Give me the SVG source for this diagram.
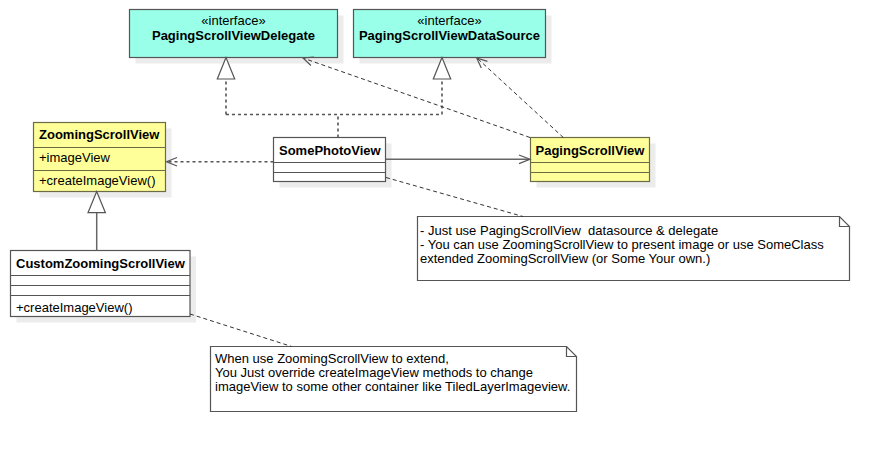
<svg xmlns="http://www.w3.org/2000/svg" width="890" height="453" viewBox="0 0 890 453">
<style>
text{font-family:"Liberation Sans",Arial,sans-serif;font-size:13px;fill:#000}
.b{font-weight:bold}
.c{text-anchor:middle}
.sh{fill:#ececec;stroke:none}
.box{stroke:#555;stroke-width:1.2}
.itf{fill:#99ffe9}
.yel{fill:#ffff99;stroke:#6b6b45}
.wht{fill:#fff}
.div{stroke:#555;stroke-width:1.2;fill:none}
.note{fill:#fff;stroke:#555;stroke-width:1.2}
.real{fill:none;stroke:#555;stroke-width:1.6;stroke-dasharray:3 3}
.dep{fill:none;stroke:#333;stroke-width:1;stroke-dasharray:4 3}
.sol{fill:none;stroke:#666;stroke-width:1.5}
.head{fill:none;stroke:#555;stroke-width:1.2}
.tri{fill:#fff;stroke:#555;stroke-width:1.2}
</style>
<rect width="890" height="453" fill="#fff"/>
<g id="PagingScrollViewDelegate">
  <rect class="sh" x="135.5" y="15.5" width="208" height="48"/>
  <rect class="box itf" x="129.5" y="9.5" width="208" height="48"/>
  <text class="c" x="233.5" y="24.5">«interface»</text>
  <text class="b c" x="233.5" y="39.5">PagingScrollViewDelegate</text>
</g>
<g id="PagingScrollViewDataSource">
  <rect class="sh" x="359.5" y="15.5" width="192" height="48"/>
  <rect class="box itf" x="353.5" y="9.5" width="192" height="48"/>
  <text class="c" x="449.5" y="24.5">«interface»</text>
  <text class="b c" x="449.5" y="39.5">PagingScrollViewDataSource</text>
</g>
<g id="ZoomingScrollView">
  <rect class="sh" x="39.5" y="128.5" width="132" height="69"/>
  <rect class="box yel" x="33.5" y="122.5" width="132" height="69"/>
  <path class="div" d="M33.5,147.5 H165.5 M33.5,170.5 H165.5" style="stroke:#6b6b45"/>
  <text class="b" x="39" y="139">ZoomingScrollView</text>
  <text x="39" y="161.5">+imageView</text>
  <text x="39" y="184.5">+createImageView()</text>
</g>
<g id="SomePhotoView">
  <rect class="sh" x="279.5" y="143.5" width="112" height="44"/>
  <rect class="box wht" x="273.5" y="137.5" width="112" height="44"/>
  <path class="div" d="M273.5,162.5 H385.5 M273.5,172.5 H385.5"/>
  <text class="b" x="279" y="155">SomePhotoView</text>
</g>
<g id="PagingScrollView">
  <rect class="sh" x="536.5" y="143.5" width="119" height="44"/>
  <rect class="box yel" x="530.5" y="137.5" width="119" height="44"/>
  <path class="div" d="M530.5,162.5 H649.5 M530.5,172.5 H649.5" style="stroke:#6b6b45"/>
  <text class="b" x="535.5" y="155">PagingScrollView</text>
</g>
<g id="CustomZoomingScrollView">
  <rect class="sh" x="16.5" y="256.5" width="179.5" height="66"/>
  <rect class="box wht" x="10.5" y="250.5" width="179.5" height="66"/>
  <path class="div" d="M10.5,275.5 H190 M10.5,285.5 H190 M10.5,295.5 H190"/>
  <text class="b" x="16" y="267.5">CustomZoomingScrollView</text>
  <text x="16" y="311.5">+createImageView()</text>
</g>
<g id="note1">
  <path class="note" d="M417.5,216.5 H839.5 L849.5,226.5 V280.5 H417.5 Z M839.5,216.5 V226.5 H849.5"/>
  <text x="420" y="235" style="white-space:pre">- Just use PagingScrollView  datasource &amp; delegate</text>
  <text x="420" y="249">- You can use ZoomingScrollView to present image or use SomeClass</text>
  <text x="420" y="263">extended ZoomingScrollView (or Some Your own.)</text>
</g>
<g id="note2">
  <path class="note" d="M210.5,346.5 H566.5 L576.5,356.5 V411.5 H210.5 Z M566.5,346.5 V356.5 H576.5"/>
  <text x="215" y="363">When use ZoomingScrollView to extend,</text>
  <text x="215" y="377">You Just override createImageView methods to change</text>
  <text x="215" y="391">imageView to some other container like TiledLayerImageview.</text>
</g>
<g id="connectors">
  <path class="real" d="M338,137.5 V114.5 M226,114.5 H442 M226,114.5 V79 M442,114.5 V79"/>
  <polygon class="tri" points="226,57.5 217.3,79 234.7,79"/>
  <polygon class="tri" points="442,57.5 433.3,79 450.7,79"/>
  <line class="sol" x1="96.7" y1="250.5" x2="96.7" y2="212.7"/>
  <polygon class="tri" points="96.7,191.5 88,212.7 105.4,212.7"/>
  <line class="real" x1="273.5" y1="161.7" x2="167" y2="161.7"/>
  <polyline class="head" points="177,157.5 166.5,161.7 177,166"/>
  <line class="sol" x1="386" y1="159.3" x2="529" y2="159.3"/>
  <polyline class="head" points="519,155 530,159.3 519,163.6"/>
  <line class="dep" x1="530" y1="137.5" x2="304" y2="58.4"/>
  <polyline class="head" points="310.9,65.5 303,58 313.9,57.1"/>
  <line class="dep" x1="563.3" y1="137.5" x2="477.5" y2="58.5"/>
  <polyline class="head" points="481.3,68.1 476.7,58 487.4,61.4"/>
  <line class="dep" x1="386" y1="177.5" x2="523" y2="216.5"/>
  <line class="dep" x1="190" y1="314" x2="291.7" y2="346.5"/>
</g>
</svg>
